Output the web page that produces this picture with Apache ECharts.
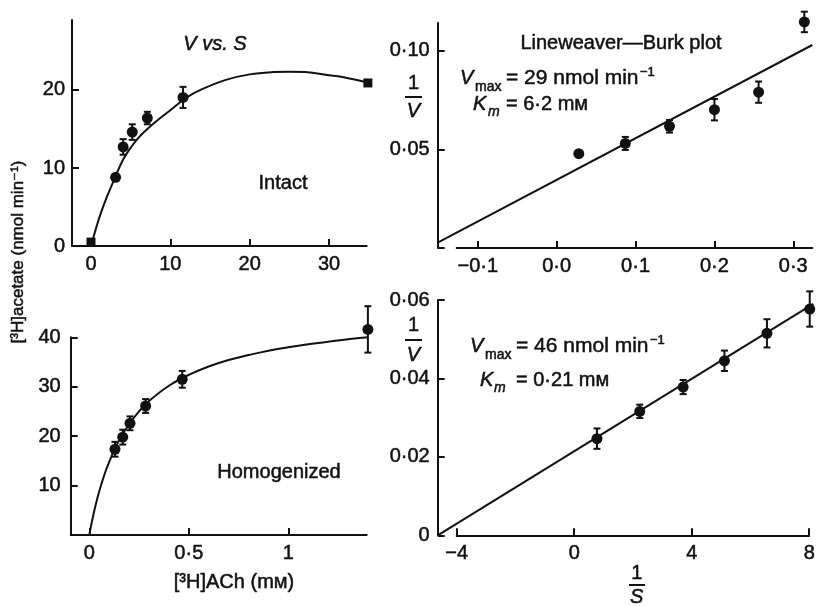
<!DOCTYPE html>
<html>
<head>
<meta charset="utf-8">
<script src="https://cdn.jsdelivr.net/npm/echarts@6/dist/echarts.min.js"></script>
<style>html,body{margin:0;padding:0;background:#fff}#c{width:818px;height:606px}</style>
</head>
<body>
<div id="c"></div>
<script>
// ---------- Panel A: intact, V vs S ----------
const intactS   = [3.1, 4.05, 5.2, 7.1, 11.6];
const intactV   = [8.8, 12.7, 14.6, 16.4, 19.05];
const intactErr = [0, 1.0, 1.0, 0.8, 1.35];
const intactSqS = [0, 34.9];
const intactSqV = [0.5, 20.9];
const intactCurveS = [0, 0.5, 1.1, 2, 3, 4, 5, 6, 7, 8, 10, 12, 14, 17, 20, 23, 25, 27, 30, 32, 34.7];
const intactCurveV = [0, 1.8, 3.8, 6.3, 8.7, 11.0, 12.6, 13.9, 14.9, 15.8, 17.4, 19.0, 20.1, 21.3, 22.0, 22.3, 22.35, 22.3, 21.9, 21.6, 21.0];
const ticksA_x = [0, 10, 20, 30];
const ticksA_y = [0, 10, 20];

// ---------- Panel B: intact, Lineweaver-Burk ----------
const lbIntactX   = [0.028, 0.087, 0.143, 0.200, 0.256, 0.314];
const lbIntactY   = [0.0478, 0.0530, 0.0617, 0.0701, 0.0790, 0.1146];
const lbIntactErr = [0, 0.0033, 0.0032, 0.0054, 0.0054, 0.0052];
const lbIntactLineX = [-0.1509, 0.3241];
const lbIntactLineY = [0.0027, 0.1029];
const ticksB_x = [-0.1, 0.0, 0.1, 0.2, 0.3];
const ticksB_yTick = [0, 0.05, 0.10];
const ticksB_yLabel = [0.05, 0.10];

// ---------- Panel C: homogenized, V vs S ----------
const homS   = [0.129, 0.168, 0.2045, 0.283, 0.467, 1.40];
const homV   = [17.35, 19.8, 22.6, 26.1, 31.5, 41.6];
const homErr = [1.5, 1.5, 1.4, 1.4, 1.7, 4.7];
const homCurveS = [0, 0.01, 0.02, 0.04, 0.06, 0.08, 0.1, 0.13, 0.16, 0.2, 0.25, 0.3, 0.4, 0.5, 0.6, 0.7, 0.8, 0.9, 1.0, 1.1, 1.2, 1.3, 1.4];
const homCurveV = [0, 2.1, 4.0, 7.4, 10.2, 12.7, 14.8, 17.6, 19.9, 22.4, 25.0, 27.1, 30.2, 32.4, 34.1, 35.4, 36.4, 37.3, 38.0, 38.6, 39.1, 39.6, 40.0];
const ticksC_x = [0, 0.5, 1];
const ticksC_yTick = [0, 10, 20, 30, 40];
const ticksC_yLabel = [10, 20, 30, 40];

// ---------- Panel D: homogenized, Lineweaver-Burk ----------
const lbHomX   = [0.72, 2.16, 3.62, 5.01, 6.44, 7.88];
const lbHomY   = [0.02465, 0.0316, 0.0378, 0.0445, 0.0515, 0.0577];
const lbHomErr = [0.0026, 0.0017, 0.0018, 0.0026, 0.0036, 0.0045];
const lbHomLineX = [-4.639, 8.0];
const lbHomLineY = [0, 0.059];
const ticksD_x = [-4, 0, 4, 8];
const ticksD_y = [0, 0.02, 0.04, 0.06];

// ---------- helpers ----------
const INK = '#111';
const FONT = '"Liberation Sans", Arial, "DejaVu Sans", sans-serif';
const zip2 = (a, b) => a.map((v, i) => [v, b[i]]);
const zip3 = (a, b, c) => a.map((v, i) => [v, b[i], c[i]]);
const fmtDot = (d) => (v) => {
  if (Math.abs(v) < 1e-9 && d === 0) return '0';
  let s = Math.abs(v).toFixed(d).replace('.', '\u00b7');
  return (v < -1e-9 ? '\u2212' : '') + s;
};
const labelStyle = { color: INK, fontSize: 20, fontFamily: FONT, textBorderColor: INK, textBorderWidth: 0.5 };

function xAxisCfg(gi, min, max, ticks, fmt) {
  return {
    type: 'value', gridIndex: gi, min: min, max: max,
    axisLine: { show: true, onZero: false, lineStyle: { color: INK, width: 2 } },
    axisTick: { show: true, inside: true, length: 7, lineStyle: { color: INK, width: 2 }, customValues: ticks },
    axisLabel: Object.assign({ show: true, margin: 8, customValues: ticks, formatter: fmt }, labelStyle),
    splitLine: { show: false }
  };
}
function hiddenAxis(gi, min, max) {
  return { type: 'value', gridIndex: gi, min: min, max: max, show: false, splitLine: { show: false } };
}
function yAxisCfg(gi, min, max, tickVals, labelVals, fmt, margin) {
  return {
    type: 'value', gridIndex: gi, min: min, max: max,
    axisLine: { show: true, onZero: false, lineStyle: { color: INK, width: 2 } },
    axisTick: { show: true, inside: true, length: 7, lineStyle: { color: INK, width: 2 }, customValues: tickVals },
    axisLabel: Object.assign({ show: true, margin: margin, customValues: labelVals, formatter: fmt }, labelStyle),
    splitLine: { show: false }
  };
}
function errSeries(data, idx) {
  return {
    type: 'custom', xAxisIndex: idx, yAxisIndex: idx, data: data, silent: true, z: 3, clip: false,
    encode: { x: 0, y: 1 },
    renderItem: function (params, api) {
      const x = api.value(0), y = api.value(1), e = api.value(2);
      if (!e) return null;
      const hi = api.coord([x, y + e]);
      const lo = api.coord([x, y - e]);
      const hw = 3.5;
      const st = { stroke: INK, lineWidth: 2 };
      return { type: 'group', children: [
        { type: 'line', shape: { x1: hi[0], y1: hi[1], x2: lo[0], y2: lo[1] }, style: st },
        { type: 'line', shape: { x1: hi[0] - hw, y1: hi[1], x2: hi[0] + hw, y2: hi[1] }, style: st },
        { type: 'line', shape: { x1: lo[0] - hw, y1: lo[1], x2: lo[0] + hw, y2: lo[1] }, style: st }
      ]};
    }
  };
}
function ptSeries(data, idx, symbol, size) {
  return { type: 'scatter', xAxisIndex: idx, yAxisIndex: idx, data: data, symbol: symbol, symbolSize: size,
           clip: false, itemStyle: { color: INK, opacity: 1 }, z: 4, silent: true };
}
function curveSeries(data, idx, smooth) {
  return { type: 'line', xAxisIndex: idx, yAxisIndex: idx, data: data, smooth: smooth, showSymbol: false,
           clip: false, lineStyle: { color: INK, width: 2 }, z: 2, silent: true };
}

// ---------- annotation texts ----------
function txt(x, y, text, opt) {
  opt = opt || {};
  return {
    type: 'text', x: x, y: y, rotation: opt.rot || 0, silent: true,
    style: {
      text: text, fill: INK, stroke: INK, lineWidth: opt.thin ? 0 : 0.5,
      font: (opt.italic ? 'italic ' : '') + (opt.size || 20) + 'px ' + FONT,
      align: opt.align || 'left', verticalAlign: opt.va || 'middle',
      textAlign: opt.align || 'left', textVerticalAlign: opt.va || 'middle'
    }
  };
}
function hline(x1, x2, y) {
  return { type: 'line', silent: true, shape: { x1: x1, y1: y, x2: x2, y2: y }, style: { stroke: INK, lineWidth: 2 } };
}

const graphics = [
  txt(215, 44, 'V vs. S', { italic: true, align: 'center' }),
  txt(283, 183, 'Intact', { align: 'center' }),
  txt(279, 472, 'Homogenized', { align: 'center' }),
  txt(234, 582, '[\u00b3H]ACh (m\u1d0d)', { align: 'center' }),
  txt(18, 252, '[\u00b3H]acetate (nmol min\u207b\u00b9)', { align: 'center', rot: Math.PI / 2, size: 17 }),
  // panel B
  txt(621, 43, 'Lineweaver\u2014Burk plot', { align: 'center' }),
  txt(413.5, 83.5, '1', { align: 'center' }),
  hline(405, 422, 97),
  txt(413.5, 111.5, 'V', { align: 'center', italic: true }),
  txt(460, 78, 'V', { italic: true }),
  txt(475, 87, 'max', { size: 14 }),
  txt(506, 78, '= 29 nmol min', { size: 21 }),
  txt(640, 72, '\u22121', { size: 13 }),
  txt(473, 104, 'K', { italic: true }),
  txt(488, 112, 'm', { italic: true, size: 14 }),
  txt(506, 104, '= 6\u00b72 m\u1d0d', {}),
  // panel D
  txt(413.5, 325, '1', { align: 'center' }),
  hline(405, 422, 340),
  txt(413.5, 355, 'V', { align: 'center', italic: true }),
  txt(470, 346, 'V', { italic: true }),
  txt(485, 355, 'max', { size: 14 }),
  txt(516, 346, '= 46 nmol min', { size: 21 }),
  txt(650, 340, '\u22121', { size: 13 }),
  txt(480, 380, 'K', { italic: true }),
  txt(494, 388, 'm', { italic: true, size: 14 }),
  txt(516, 380, '= 0\u00b721 m\u1d0d', {}),
  txt(636.7, 573, '1', { align: 'center' }),
  hline(629, 645, 585),
  txt(636.7, 597, 'S', { align: 'center', italic: true })
];

const option = {
  animation: false,
  backgroundColor: '#fff',
  grid: [
    { left: 72, top: 20, width: 294.7, height: 226 },        // 0 A
    { left: 437.7, top: 22.9, width: 374.6, height: 225.1 },  // 1 B data + y axis
    { left: 70.7, top: 337.3, width: 296, height: 197.7 },    // 2 C
    { left: 437.7, top: 300, width: 375.6, height: 235.3 },   // 3 D data + y axis
    { left: 456.7, top: 22.9, width: 355.6, height: 225.1 },  // 4 B x axis
    { left: 456.7, top: 300, width: 356.6, height: 235.3 }    // 5 D x axis
  ],
  xAxis: [
    xAxisCfg(0, -2.395, 34.75, ticksA_x, fmtDot(0)),
    hiddenAxis(1, -0.1509, 0.3241),
    xAxisCfg(2, -0.0935, 1.394, ticksC_x, (v) => v === 0.5 ? '0\u00b75' : String(v)),
    hiddenAxis(3, -4.639, 8),
    xAxisCfg(4, -0.1268, 0.3241, ticksB_x, fmtDot(1)),
    xAxisCfg(5, -4, 8, ticksD_x, fmtDot(0))
  ],
  yAxis: [
    yAxisCfg(0, 0, 28.97, ticksA_y, ticksA_y, fmtDot(0), 7),
    yAxisCfg(1, 0, 0.1141, ticksB_yTick, ticksB_yLabel, fmtDot(2), 8),
    yAxisCfg(2, 0, 40, ticksC_yTick, ticksC_yLabel, fmtDot(0), 10),
    yAxisCfg(3, 0, 0.06, ticksD_y, ticksD_y, (v) => v === 0 ? '0' : fmtDot(2)(v), 8),
    hiddenAxis(4, 0, 0.1141),
    hiddenAxis(5, 0, 0.06)
  ],
  graphic: graphics,
  series: [
    curveSeries(zip2(intactCurveS, intactCurveV), 0, 0.4),
    errSeries(zip3(intactS, intactV, intactErr), 0),
    ptSeries(zip2(intactS, intactV), 0, 'circle', 11),
    ptSeries(zip2(intactSqS, intactSqV), 0, 'rect', 9),

    curveSeries(zip2(lbIntactLineX, lbIntactLineY), 1, false),
    errSeries(zip3(lbIntactX, lbIntactY, lbIntactErr), 1),
    ptSeries(zip2(lbIntactX, lbIntactY), 1, 'circle', 11),

    curveSeries(zip2(homCurveS, homCurveV), 2, 0.4),
    errSeries(zip3(homS, homV, homErr), 2),
    ptSeries(zip2(homS, homV), 2, 'circle', 11),

    curveSeries(zip2(lbHomLineX, lbHomLineY), 3, false),
    errSeries(zip3(lbHomX, lbHomY, lbHomErr), 3),
    ptSeries(zip2(lbHomX, lbHomY), 3, 'circle', 11)
  ]
};
const chart = echarts.init(document.getElementById('c'), null, { renderer: 'canvas' });
chart.setOption(option);
</script>
</body>
</html>
